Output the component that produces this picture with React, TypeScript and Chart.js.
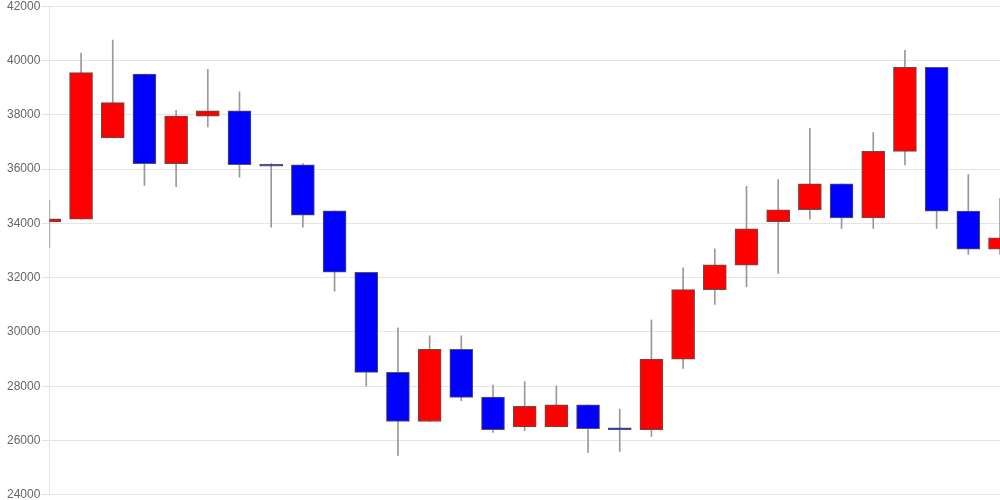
import React, { useEffect, useRef } from "react";
import { Chart, registerables } from "chart.js";

Chart.register(...registerables);

const labels: string[] = [
  "1", "2", "3", "4", "5", "6", "7", "8", "9", "10",
  "11", "12", "13", "14", "15", "16", "17", "18", "19", "20",
  "21", "22", "23", "24", "25", "26", "27", "28", "29", "30", "31",
];

const opens: number[] = [
  34050, 34150, 37150, 39500, 36200, 37950, 38150, 36170, 36160, 34460,
  32200, 28510, 26700, 29360, 27600, 26500, 26500, 27310, 26470, 26400,
  29000, 31560, 32460, 34060, 34500, 35460, 34200, 36650, 39750, 34450, 33050,
];
const highs: number[] = [
  34850, 40270, 40750, 39500, 38160, 39670, 38850, 36200, 36200, 34460,
  32200, 30150, 29860, 29860, 28040, 28170, 28010, 27310, 27160, 30450,
  32360, 33060, 35360, 35610, 37500, 35460, 37340, 40370, 39750, 35800, 34920,
];
const lows: number[] = [
  33100, 34150, 37150, 35400, 35350, 37550, 35700, 33860, 33860, 31500,
  28000, 25450, 26700, 27470, 26300, 26360, 26500, 25560, 25600, 26150,
  28660, 31010, 31660, 32160, 34150, 33810, 33810, 36150, 33810, 32860, 32860,
];
const closes: number[] = [
  34170, 39550, 38450, 36200, 37950, 38150, 36160, 36110, 34300, 32200,
  28510, 26700, 29360, 27590, 26400, 27260, 27310, 26440, 26400, 29000,
  31560, 32470, 33800, 34500, 35460, 34200, 36650, 39750, 34450, 33050, 33470,
];

const yTicks: number[] = [24000, 26000, 28000, 30000, 32000, 34000, 36000, 38000, 40000, 42000];

const UP_COLOR = "#ff0000";
const DOWN_COLOR = "#0000ff";

export default function App() {
  const canvasRef = useRef<HTMLCanvasElement | null>(null);

  useEffect(() => {
    if (!canvasRef.current) return;
    const bodies = opens.map((o, i) => [o, closes[i]]);
    const wicks = lows.map((l, i) => [l, highs[i]]);
    const bodyColors = opens.map((o, i) => (closes[i] >= o ? UP_COLOR : DOWN_COLOR));

    const chart = new Chart(canvasRef.current, {
      type: "bar",
      data: {
        labels,
        datasets: [
          {
            label: "body",
            data: bodies as any,
            backgroundColor: bodyColors,
            borderColor: "#555555",
            borderWidth: 1,
            borderSkipped: false,
            barThickness: 23,
            grouped: false,
            order: 0,
          } as any,
          {
            label: "wick",
            data: wicks as any,
            backgroundColor: "#999999",
            borderWidth: 0,
            barThickness: 1,
            grouped: false,
            order: 1,
          } as any,
        ],
      },
      options: {
        animation: false,
        responsive: true,
        maintainAspectRatio: false,
        layout: { padding: { left: 6, right: 0, top: 0, bottom: 0 } },
        plugins: {
          legend: { display: false },
          tooltip: { enabled: false },
        },
        scales: {
          x: {
            display: false,
            offset: false,
            grid: { display: false },
          },
          y: {
            min: 24000,
            max: 42000,
            afterBuildTicks: (axis: any) => {
              axis.ticks = yTicks.map((v) => ({ value: v }));
            },
            ticks: {
              color: "#666666",
              padding: 1,
              font: { family: "Arial, 'Liberation Sans', sans-serif", size: 12 },
              callback: (v: any) => String(v),
            },
            grid: { color: "rgba(0,0,0,0.1)" },
          },
        },
      },
    });
    return () => chart.destroy();
  }, []);

  return (
    <div style={{ position: "fixed", left: 0, top: 0, width: 1000, height: 500, overflow: "hidden", background: "#fff" }}>
      <div style={{ position: "absolute", left: 0, top: -2, width: 1000, height: 505 }}>
        <canvas ref={canvasRef} />
      </div>
    </div>
  );
}
